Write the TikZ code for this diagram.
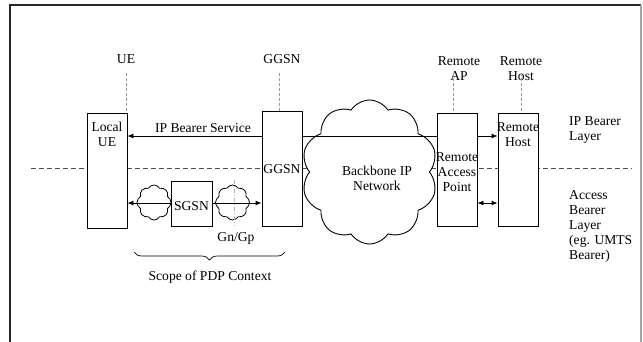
\documentclass[tikz,border=0pt]{standalone}
\usepackage{fontspec}
\setmainfont{Liberation Serif}
\usetikzlibrary{arrows.meta,shapes.symbols,decorations.pathreplacing}
\tikzset{
  txt/.style={inner sep=0pt,align=center,font=\fontsize{13.6}{15}\selectfont},
  ltxt/.style={inner sep=0pt,align=left,font=\fontsize{13.6}{15}\selectfont},
  boxnode/.style={draw,line width=0.9pt,fill=white,inner sep=0pt,minimum width=40pt},
  guide/.style={gray!80,dashed,dash pattern=on 3pt off 2pt,line width=0.6pt},
  layerline/.style={black!70,dash pattern=on 5pt off 3pt,line width=0.6pt},
  arr/.style={line width=0.9pt,-{Latex[length=6pt,width=5pt]}},
  darr/.style={line width=0.9pt,{Latex[length=6pt,width=5pt]}-{Latex[length=6pt,width=5pt]}},
  bigcloud/.style={cloud,draw,fill=white,line width=0.9pt,cloud puffs=10,cloud puff arc=115,aspect=0.95,inner sep=0pt},
  smallcloud/.style={cloud,draw,fill=white,line width=0.8pt,cloud puffs=8,cloud puff arc=120,aspect=1,inner sep=0pt,minimum width=34pt,minimum height=35pt}
}
\begin{document}
\begin{tikzpicture}[x=1pt,y=-1pt]
\useasboundingbox (0,0) rectangle (643,341);
% frame
\draw[line width=1.6pt,black!85] (10,345) -- (10,5) -- (641,5);
\draw[line width=1.4pt,gray!70] (641,5) -- (641,345);
% layer separator
\coordinate (ll) at (31,168);
\coordinate (lr) at (632,168);
\draw[layerline] (ll) -- (lr);
% top labels
\node[txt] (uelab) at (126,59.5) {UE};
\node[txt] (ggsnlab) at (282,59.5) {GGSN};
\node[txt] (raplab) at (459,69) {Remote\\AP};
\node[txt] (rhlab) at (521,69) {Remote\\Host};
% guide coordinates
\coordinate (g1) at (126,73);
\coordinate (g2) at (279,73);
\coordinate (g3) at (453,73);
\coordinate (g4) at (521,73);
% boxes
\node[boxnode,minimum height=115pt] (ue) at (107,170.5) {};
\node[boxnode,minimum height=115pt] (ggsn) at (282,168.5) {};
\node[boxnode,minimum height=113pt] (rap) at (457,169.5) {};
\node[boxnode,minimum height=113pt] (rh) at (518,169.5) {};
\node[boxnode,minimum width=41pt,minimum height=45pt] (sgsn) at (191.5,203.5) {};
\draw[guide] (g1) -- (g1 |- ue.north);
\draw[guide] (g2) -- (g2 |- ggsn.north);
\draw[guide] (g3) -- (g3 |- rap.north);
\draw[guide] (g4) -- (g4 |- rh.north);
% big cloud
\node[bigcloud,minimum width=136pt,minimum height=144pt] (bb) at (369.5,172) {};
% small clouds
\node[smallcloud] (c1) at (154,202.5) {};
\node[smallcloud] (c2) at (232.5,202.5) {};
\coordinate (gt) at (234,180);
\coordinate (gb) at (234,226);
\draw[gray!60,line width=0.4pt,dash pattern=on 4pt off 2pt on 1pt off 2pt] (gt) -- (gb);
% IP bearer service line
\coordinate (ipy) at (0,136);
\draw[arr] (ggsn.west |- ipy) -- (ue.east |- ipy);
\draw[line width=0.9pt] (ggsn.east |- ipy) -- (rap.west |- ipy);
\draw[arr] (rap.east |- ipy) -- (rh.west |- ipy);
\node[txt] (ipbs) at (203,128) {IP Bearer Service};
% access bearer lines
\coordinate (aby) at (0,203);
\draw[arr] (sgsn.west |- aby) -- (ue.east |- aby);
\draw[arr] (sgsn.east |- aby) -- (ggsn.west |- aby);
\draw[darr] (rap.east |- aby) -- (rh.west |- aby);
% box texts
\node[txt] (uetxt) at (107,134.5) {Local\\UE};
\node[txt] (ggsntxt) at (282,169) {GGSN};
\node[txt] (raptxt) at (457,172) {Remote\\Access\\Point};
\node[txt] (rhtxt) at (518,134.5) {Remote\\Host};
\node[txt] (sgsntxt) at (191.5,206) {SGSN};
\node[txt] (bbtxt) at (377,178) {Backbone IP\\Network};
\node[txt] (gngp) at (236,238) {Gn/Gp};
% brace
\coordinate (bl) at (134,252);
\coordinate (br) at (285,252);
\draw[line width=0.7pt,decorate,decoration={brace,mirror,amplitude=8pt}] (bl) -- (br);
\node[txt] (scope) at (210,277) {Scope of PDP Context};
% right labels
\node[ltxt,anchor=west] (ipl) at (569,130) {IP Bearer\\Layer};
\node[ltxt,anchor=west] (abl) at (569,226.5) {Access\\Bearer\\Layer\\(eg. UMTS\\Bearer)};
\end{tikzpicture}
\end{document}
